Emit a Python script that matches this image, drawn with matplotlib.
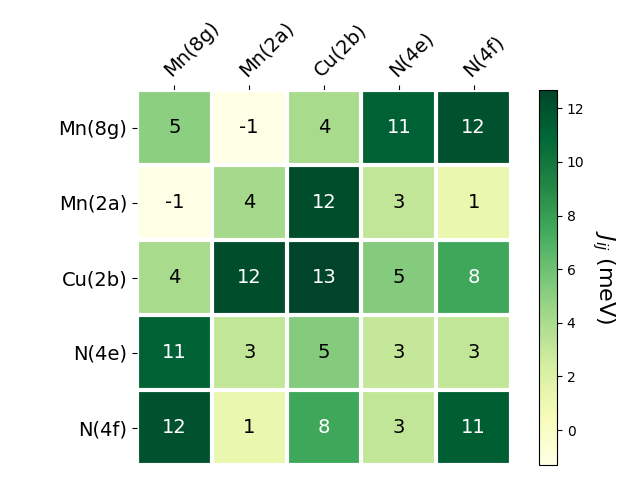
import numpy as np
import matplotlib
matplotlib.use("Agg")
import matplotlib.pyplot as plt

labels = ["Mn(8g)", "Mn(2a)", "Cu(2b)", "N(4e)", "N(4f)"]
row_mn8g = [5.0, -1.3, 4.1, 11.2, 12.0]
row_mn2a = [-1.3, 4.2, 12.2, 3.1, 1.2]
row_cu2b = [4.1, 12.2, 12.68, 5.3, 7.6]
row_n4e = [11.2, 3.1, 5.3, 3.0, 3.1]
row_n4f = [12.0, 1.2, 7.6, 3.1, 11.4]

data = np.array([row_mn8g, row_mn2a, row_cu2b, row_n4e, row_n4f])

fig = plt.figure(figsize=(6.4, 4.8), dpi=100)
W, H = 640, 480
ax = fig.add_axes([137 / W, 1 - 465 / H, 374 / W, 375 / H])
cax = fig.add_axes([539 / W, 1 - 465 / H, 18 / W, 375 / H])
im = ax.imshow(data, cmap="YlGn", aspect="auto")
cbar = fig.colorbar(im, cax=cax)
cbar.ax.set_ylabel("$J_{ij}$ (meV)", rotation=-90, va="bottom", fontsize=16)

ax.set_xticks(np.arange(len(labels)))
ax.set_yticks(np.arange(len(labels)))
ax.set_xticklabels(labels, fontsize=14)
ax.set_yticklabels(labels, fontsize=14)
ax.tick_params(top=True, bottom=False, labeltop=True, labelbottom=False)
plt.setp(ax.get_xticklabels(), rotation=45, ha="left", rotation_mode="anchor")

for s in ax.spines.values():
    s.set_visible(False)
ax.set_xticks(np.arange(data.shape[1] + 1) - .5, minor=True)
ax.set_yticks(np.arange(data.shape[0] + 1) - .5, minor=True)
ax.grid(which="minor", color="w", linestyle='-', linewidth=3)
ax.tick_params(which="minor", bottom=False, left=False, top=False)

thr = im.norm(data.max()) / 2.
for i in range(data.shape[0]):
    for j in range(data.shape[1]):
        c = "white" if im.norm(data[i, j]) > thr else "black"
        ax.text(j, i, f"{data[i, j]:.0f}", ha="center", va="center", color=c, fontsize=14)

fig.savefig("out.png")
